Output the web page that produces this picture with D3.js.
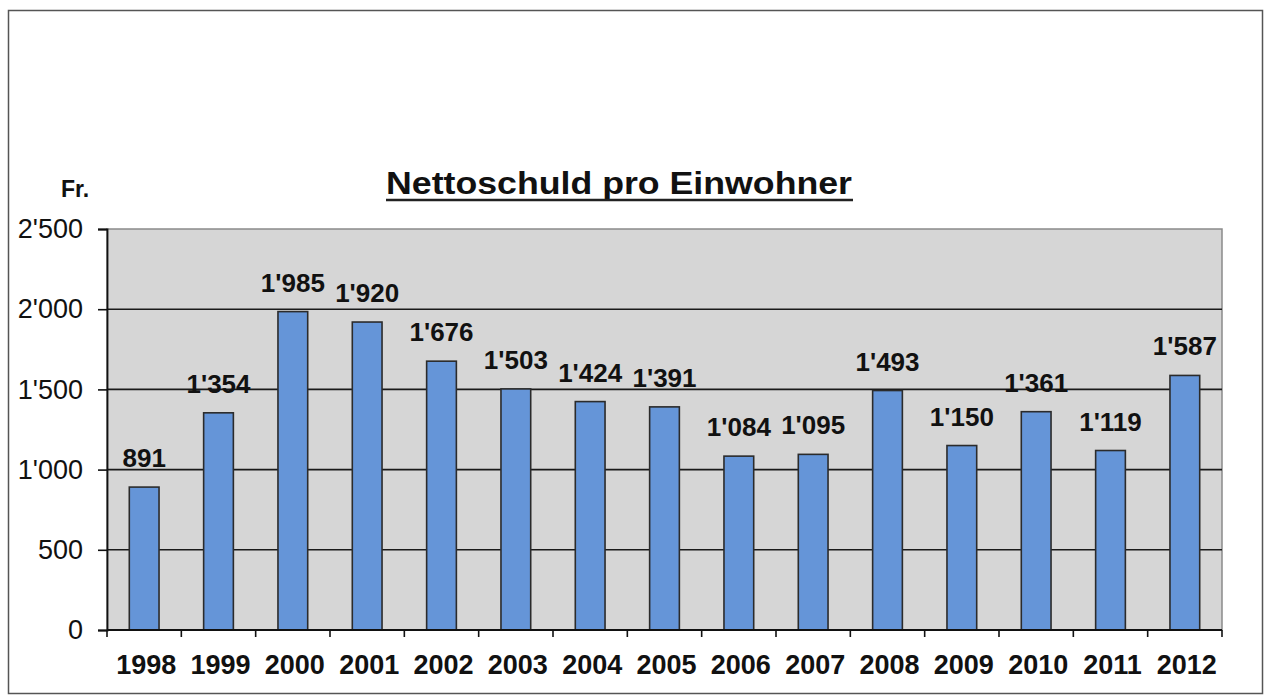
<!DOCTYPE html>
<html>
<head>
<meta charset="utf-8">
<script src="https://cdnjs.cloudflare.com/ajax/libs/d3/7.8.5/d3.min.js"></script>
<style>
  body { margin: 0; background: #fff; }
  svg text { font-family: Arial, "Liberation Sans", sans-serif; fill: #111; }
</style>
</head>
<body>
<svg width="1267" height="695"></svg>
<script>
// values
const years = ["1998","1999","2000","2001","2002","2003","2004","2005","2006","2007","2008","2009","2010","2011","2012"];
const debt = [891, 1354, 1985, 1920, 1676, 1503, 1424, 1391, 1084, 1095, 1493, 1150, 1361, 1119, 1587];
const yTicks = [0, 500, 1000, 1500, 2000, 2500];

const chTitle = "Nettoschuld pro Einwohner";
const unit = "Fr.";

const swiss = d3.formatLocale({decimal: ".", thousands: "'", grouping: [3], currency: ["", ""]});
const fmt = swiss.format(",");

const svg = d3.select("svg");
const margin = {top: 229, right: 45, bottom: 65, left: 107};
const width = +svg.attr("width") - margin.left - margin.right;
const height = +svg.attr("height") - margin.top - margin.bottom;

// outer frame of the scanned page
svg.append("rect")
  .attr("x", 8.5).attr("y", 10.5)
  .attr("width", 1254).attr("height", 683)
  .attr("fill", "none")
  .attr("stroke", "#555")
  .attr("stroke-width", 1.5);

const xScale = d3.scaleBand().domain(years).range([0, width]).paddingInner(0.6).paddingOuter(0.3);
const yScale = d3.scaleLinear().domain([0, 2500]).range([height, 0]);

const g = svg.append("g")
  .attr("transform", `translate(${margin.left},${margin.top})`);

// plot area
g.append("rect")
  .attr("width", width).attr("height", height)
  .attr("fill", "#d6d6d6")
  .attr("stroke", "#8a8a8a")
  .attr("stroke-width", 1.5);

// gridlines
g.selectAll(".grid")
  .data(yTicks.filter(d => d > 0 && d < 2500))
  .enter().append("line")
    .attr("class", "grid")
    .attr("x1", 0).attr("x2", width)
    .attr("y1", d => yScale(d)).attr("y2", d => yScale(d))
    .attr("stroke", "#1a1a1a")
    .attr("stroke-width", 1.6);

// bars
g.selectAll(".bar")
  .data(years)
  .enter().append("rect")
    .attr("class", "bar")
    .attr("x", d => xScale(d))
    .attr("y", (d, i) => yScale(debt[i]))
    .attr("width", xScale.bandwidth())
    .attr("height", (d, i) => height - yScale(debt[i]))
    .attr("fill", "#6595d8")
    .attr("stroke", "#2b2b2b")
    .attr("stroke-width", 1.6);

// data labels
g.selectAll(".lbl")
  .data(years)
  .enter().append("text")
    .attr("class", "lbl")
    .attr("x", d => xScale(d) + xScale.bandwidth() / 2)
    .attr("y", (d, i) => yScale(debt[i]) - 20)
    .attr("text-anchor", "middle")
    .style("font-size", "26px")
    .style("font-weight", "bold")
    .text((d, i) => fmt(debt[i]));

// y axis
const yAxis = g.append("g")
  .call(d3.axisLeft(yScale).tickValues(yTicks).tickFormat(fmt).tickSize(9).tickPadding(15));
yAxis.select(".domain").attr("stroke", "#111").attr("stroke-width", 1.8);
yAxis.selectAll(".tick line").attr("stroke", "#111").attr("stroke-width", 1.6);
yAxis.selectAll("text")
  .style("font-size", "27px")
  .style("font-family", "Arial, 'Liberation Sans', sans-serif")
  .attr("fill", "#111");

// x axis line with ticks between categories
const step = xScale.step();
const bounds = years.map(d => xScale(d) + xScale.bandwidth() / 2 - step / 2).concat([width]);
g.append("line")
  .attr("x1", 0).attr("x2", width)
  .attr("y1", height).attr("y2", height)
  .attr("stroke", "#111").attr("stroke-width", 1.8);
g.selectAll(".xtick")
  .data(bounds)
  .enter().append("line")
    .attr("class", "xtick")
    .attr("x1", d => d).attr("x2", d => d)
    .attr("y1", height).attr("y2", height + 7)
    .attr("stroke", "#111").attr("stroke-width", 1.6);
g.selectAll(".xlbl")
  .data(years)
  .enter().append("text")
    .attr("class", "xlbl")
    .attr("x", d => xScale(d) + xScale.bandwidth() / 2 + 2)
    .attr("y", height + 44)
    .attr("text-anchor", "middle")
    .style("font-size", "27px")
    .style("font-weight", "bold")
    .text(d => d);

// title with underline
svg.append("text")
  .attr("x", 619).attr("y", 194)
  .attr("text-anchor", "middle")
  .attr("textLength", 466)
  .attr("lengthAdjust", "spacingAndGlyphs")
  .style("font-size", "31px")
  .style("font-weight", "bold")
  .text(chTitle);
svg.append("line")
  .attr("x1", 386).attr("x2", 853)
  .attr("y1", 200).attr("y2", 200)
  .attr("stroke", "#222").attr("stroke-width", 2.5);

// unit label
svg.append("text")
  .attr("x", 61).attr("y", 197)
  .style("font-size", "23px")
  .style("font-weight", "bold")
  .text(unit);
</script>
</body>
</html>
